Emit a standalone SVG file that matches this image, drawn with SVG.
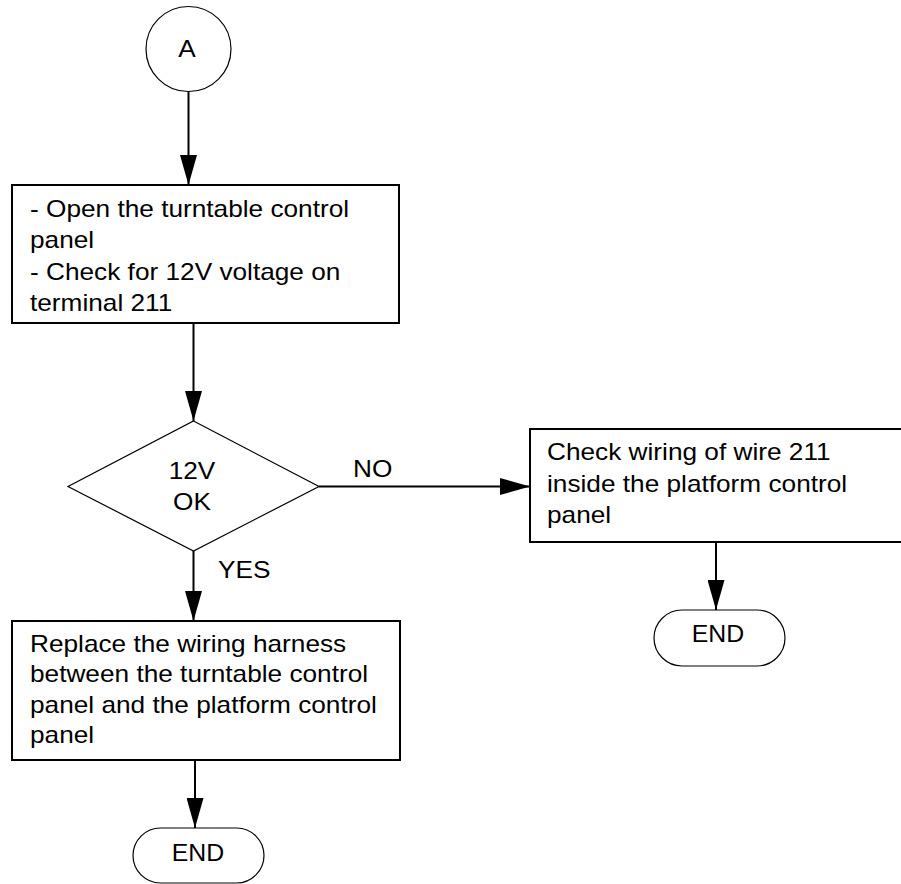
<svg xmlns="http://www.w3.org/2000/svg" width="901" height="884" viewBox="0 0 901 884">
<style>
text{font-family:"Liberation Sans",Arial,sans-serif;font-size:23px;fill:#000}
.box{fill:#fff;stroke:#000;stroke-width:2}
.thin{fill:#fff;stroke:#000;stroke-width:1.2}
.conn{stroke:#000;stroke-width:2;fill:none;marker-end:url(#ah)}
.c{text-anchor:middle}
</style>
<defs>
<marker id="ah" markerUnits="userSpaceOnUse" markerWidth="30" markerHeight="17" refX="30" refY="8.5" orient="auto" viewBox="0 0 30 17">
<path d="M0,0 L30,8.5 L0,17 z" fill="#000"/>
</marker>
</defs>
<rect width="901" height="884" fill="#fff"/>
<g id="connectors">
<line class="conn" x1="188.5" y1="91.5" x2="188.5" y2="185"/>
<line class="conn" x1="193.5" y1="324" x2="193.5" y2="421"/>
<line class="conn" x1="193.5" y1="551" x2="193.5" y2="621"/>
<line class="conn" x1="195" y1="760" x2="195" y2="828"/>
<line class="conn" x1="319" y1="486.5" x2="530" y2="486.5"/>
<line class="conn" x1="716" y1="542" x2="716" y2="610"/>
<text transform="translate(353,477) scale(1.14,1)">NO</text>
<text transform="translate(218,578) scale(1.14,1)">YES</text>
</g>
<g id="start">
<circle class="thin" cx="188.5" cy="49" r="42.5"/>
<text class="c" transform="translate(187,56.5) scale(1.14,1)">A</text>
</g>
<g id="step1">
<rect class="box" x="12" y="185" width="387" height="138"/>
<text transform="translate(30,216.5) scale(1.14,1)">- Open the turntable control</text>
<text transform="translate(30,248) scale(1.14,1)">panel</text>
<text transform="translate(30,279.5) scale(1.14,1)">- Check for 12V voltage on</text>
<text transform="translate(30,311) scale(1.14,1)">terminal 211</text>
</g>
<g id="decision">
<polygon class="thin" points="193.5,421 319,486.5 193.5,551 68,486.5"/>
<text class="c" transform="translate(192,479) scale(1.14,1)">12V</text>
<text class="c" transform="translate(192,510) scale(1.14,1)">OK</text>
</g>
<g id="check-wiring">
<rect class="box" x="530" y="429" width="380" height="113"/>
<text transform="translate(547,460) scale(1.14,1)">Check wiring of wire 211</text>
<text transform="translate(547,491.5) scale(1.14,1)">inside the platform control</text>
<text transform="translate(547,523) scale(1.14,1)">panel</text>
</g>
<g id="end-right">
<rect class="thin" x="654" y="610" width="131" height="56" rx="28" ry="28"/>
<text class="c" transform="translate(718,642) scale(1.08,1)">END</text>
</g>
<g id="replace-harness">
<rect class="box" x="12" y="621" width="388" height="139"/>
<text transform="translate(30,651.5) scale(1.14,1)">Replace the wiring harness</text>
<text transform="translate(30,682) scale(1.14,1)">between the turntable control</text>
<text transform="translate(30,712.5) scale(1.14,1)">panel and the platform control</text>
<text transform="translate(30,743) scale(1.14,1)">panel</text>
</g>
<g id="end-left">
<rect class="thin" x="133" y="828" width="131" height="55" rx="27.5" ry="27.5"/>
<text class="c" transform="translate(198,861) scale(1.08,1)">END</text>
</g>
</svg>
